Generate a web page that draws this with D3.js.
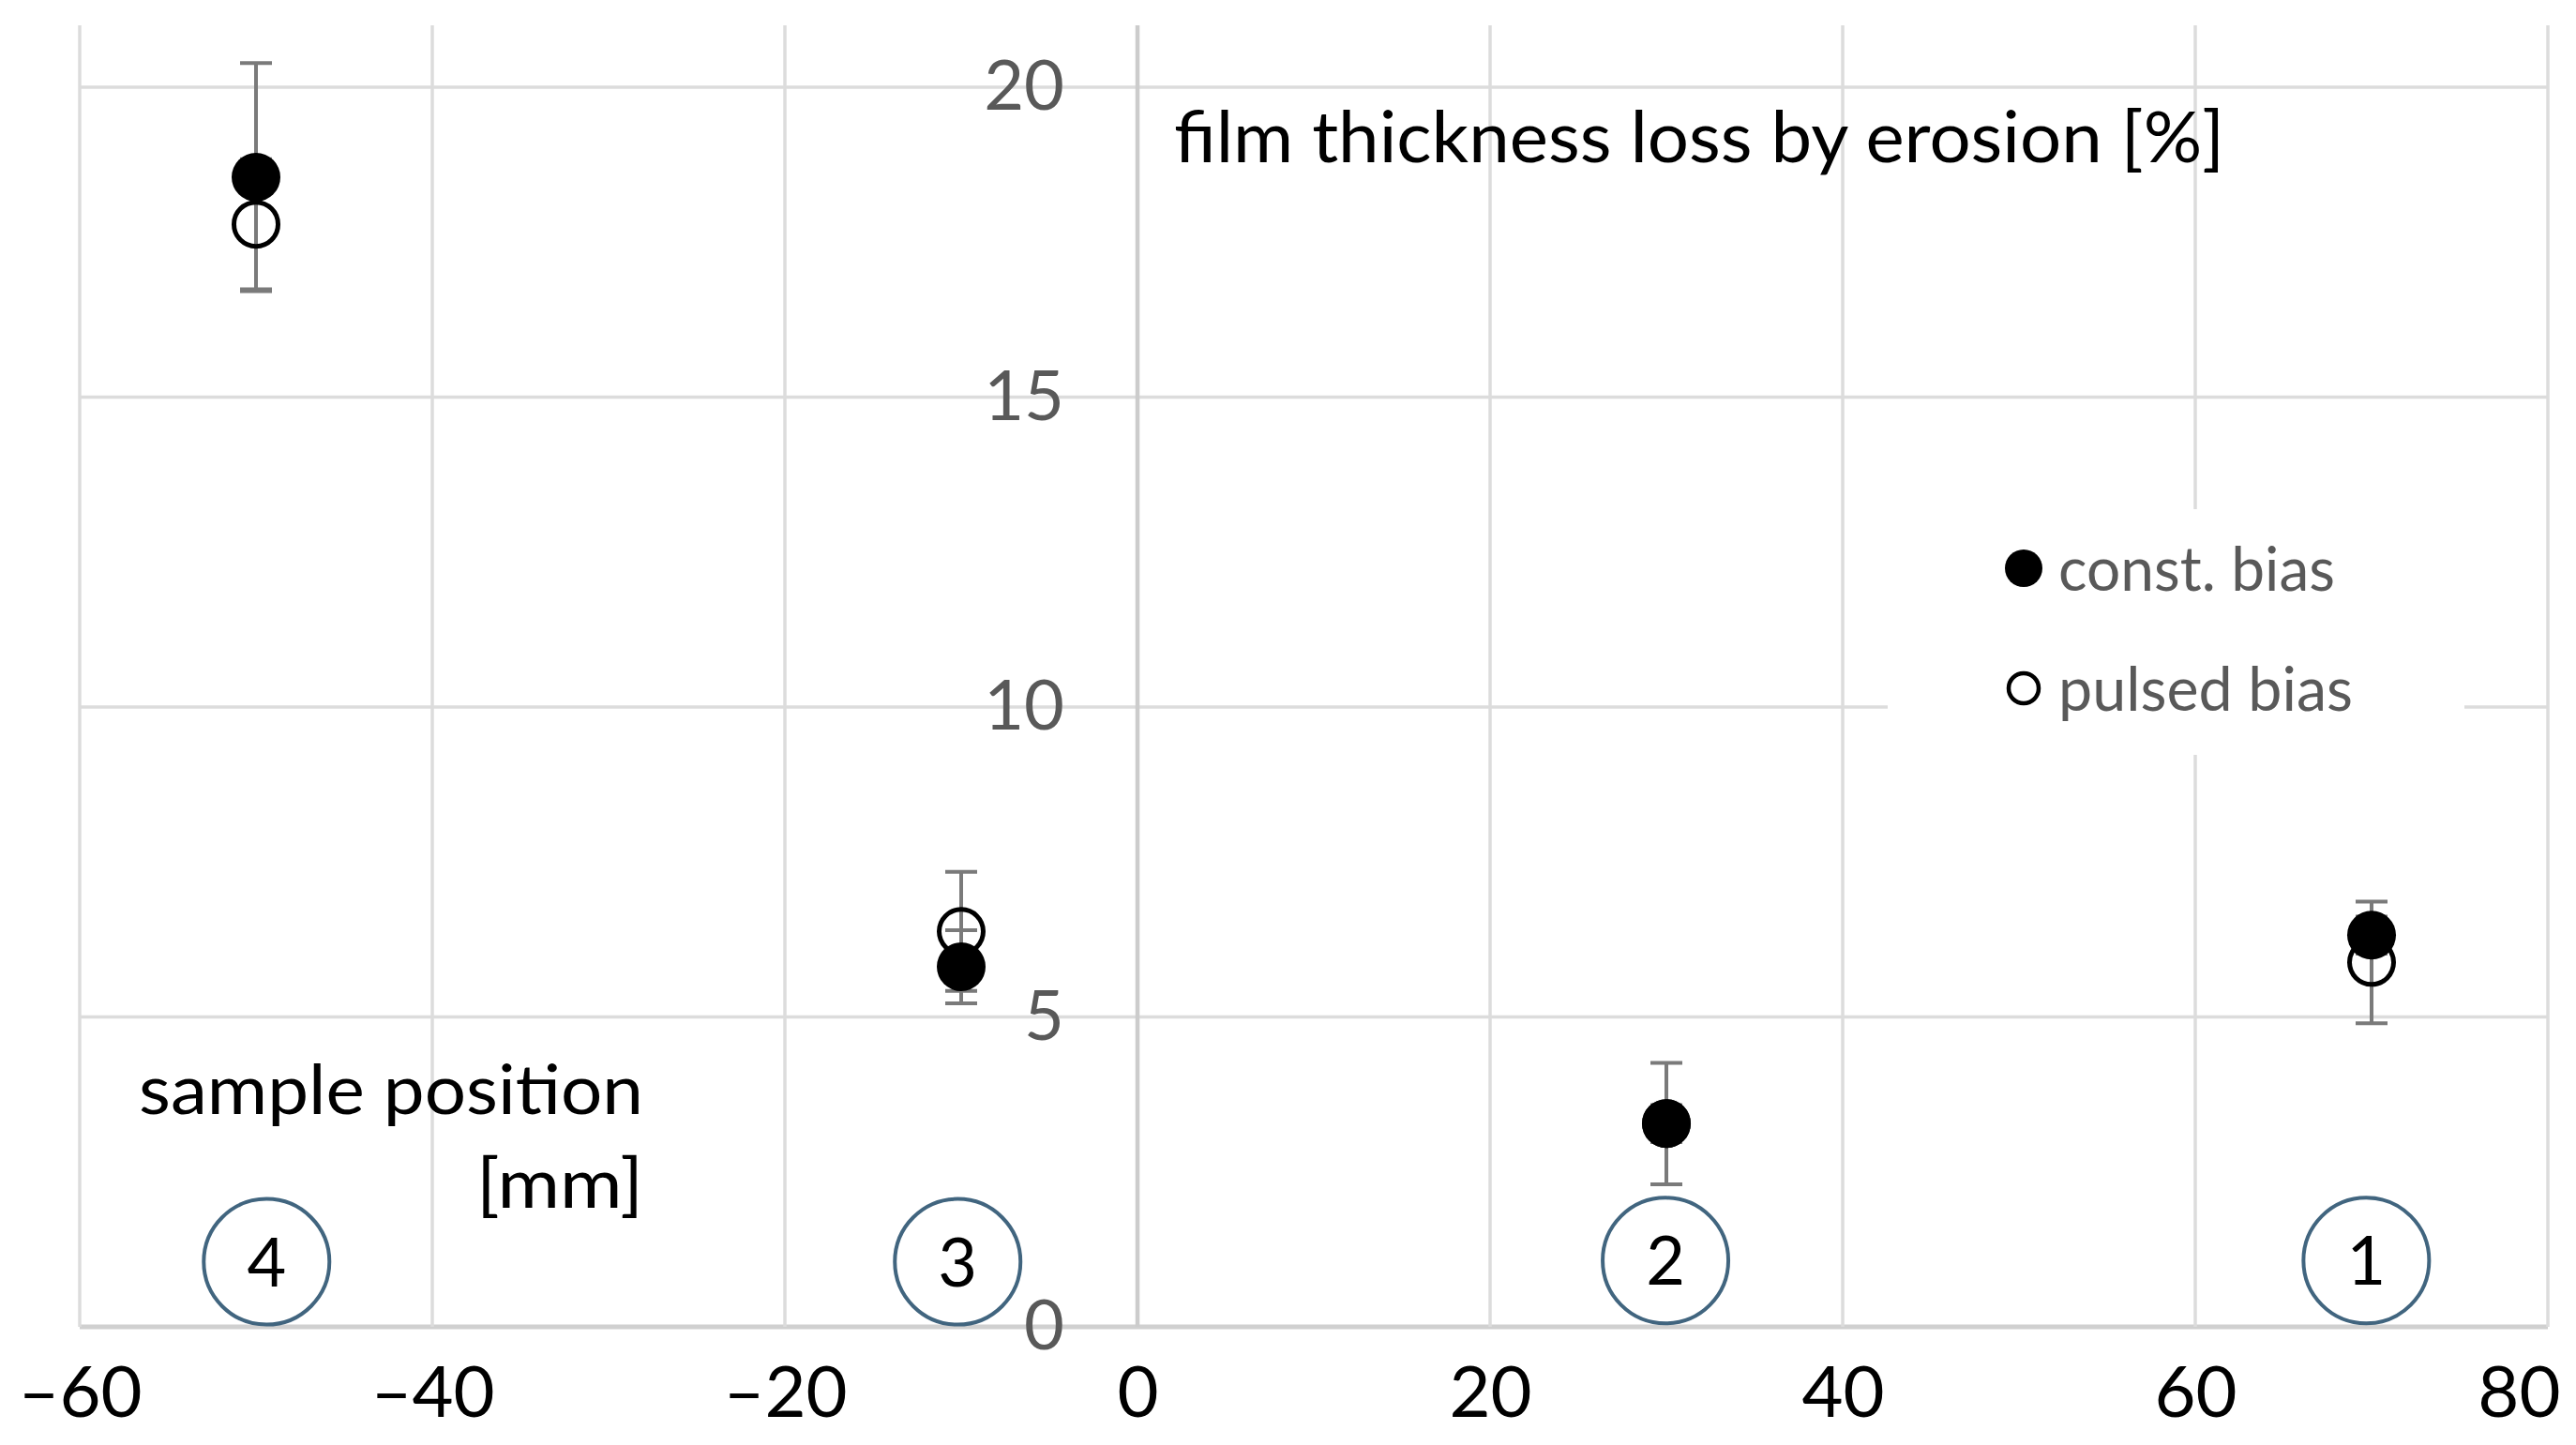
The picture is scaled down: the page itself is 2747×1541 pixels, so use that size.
<!DOCTYPE html>
<html>
<head>
<meta charset="utf-8">
<script src="https://cdn.jsdelivr.net/npm/d3@7"></script>
<style>
  html, body { margin: 0; padding: 0; background: #ffffff; }
  svg { display: block; font-family: Lato, "Open Sans", sans-serif; }
</style>
</head>
<body>
<script>
// ---------- data ----------
const xTicks = [-60, -40, -20, 0, 20, 40, 60, 80];
const yTicks = [0, 5, 10, 15, 20];
const positions = [-50, -10, 30, 70];            // sample position [mm]
const constBias = [18.55, 5.81, 3.28, 6.32];     // film thickness loss [%]
const constErr  = [1.84, 0.59, 0.98, 0.30];
const pulsedBias = [17.79, 6.38, 3.28, 5.88];
const pulsedErr  = [1.05, 0.96, 0.30, 0.98];
const sampleLabels = ["4", "3", "2", "1"];
const sampleLabelX = [-49.4, -10.2, 29.95, 69.7];
const sampleLabelY = [1.05, 1.05, 1.07, 1.07];
const legendLabels = ["const. bias", "pulsed bias"];
const titleText = "film thickness loss by erosion [%]";
const xTitleLines = ["sample position", "[mm]"];

// ---------- layout ----------
const W = 2747, H = 1541;
const x = d3.scaleLinear().domain([-60, 80]).range([85, 2717]);
const y = d3.scaleLinear().domain([0, 21]).range([1415, 27]);

const svg = d3.select("body").append("svg").attr("width", W).attr("height", H);
svg.append("rect").attr("width", W).attr("height", H).attr("fill", "#fff");

// gridlines
const grid = svg.append("g");
grid.selectAll("line.h").data(yTicks).join("line")
  .attr("x1", x(-60)).attr("x2", x(80))
  .attr("y1", d => y(d)).attr("y2", d => y(d))
  .attr("stroke", d => d === 0 ? "#d0d0d0" : "#dcdcdc")
  .attr("stroke-width", d => d === 0 ? 5 : 3.5);
grid.selectAll("line.v").data(xTicks).join("line")
  .attr("x1", d => x(d)).attr("x2", d => x(d))
  .attr("y1", y(21)).attr("y2", y(0))
  .attr("stroke", d => d === 0 ? "#cccccc" : "#dcdcdc")
  .attr("stroke-width", d => d === 0 ? 4.5 : 3.5);

// legend background (hides gridlines)
svg.append("rect").attr("x", 2013).attr("y", 543).attr("width", 615).attr("height", 262).attr("fill", "#fff");

// y axis labels (at x = 0)
const yAxis = d3.axisLeft(y).tickValues(yTicks).tickSize(0).tickPadding(78);
const gy = svg.append("g").attr("transform", `translate(${x(0)},0)`).call(yAxis);
gy.select(".domain").remove();
gy.selectAll("text").attr("font-size", 74).attr("fill", "#595959").attr("font-family", "Lato");

// x axis labels
const xAxis = d3.axisBottom(x).tickValues(xTicks).tickSize(0).tickPadding(42)
  .tickFormat(d => d < 0 ? "\u2013" + Math.abs(d) : String(d));
const gx = svg.append("g").attr("transform", `translate(0,${y(0)})`).call(xAxis);
gx.select(".domain").remove();
gx.selectAll("text").attr("font-size", 76).attr("fill", "#000").attr("font-family", "Lato");
gx.selectAll(".tick").filter(d => d === xTicks[xTicks.length - 1])
  .select("text").attr("text-anchor", "end").attr("x", 13);

// annotation ellipses
const ann = svg.append("g");
sampleLabels.forEach((lab, i) => {
  ann.append("ellipse")
    .attr("cx", x(sampleLabelX[i])).attr("cy", y(sampleLabelY[i]))
    .attr("rx", 67).attr("ry", 67)
    .attr("fill", "none").attr("stroke", "#41657f").attr("stroke-width", 4);
  ann.append("text")
    .attr("x", x(sampleLabelX[i])).attr("y", y(sampleLabelY[i]))
    .attr("dy", "0.36em").attr("text-anchor", "middle")
    .attr("font-size", 72).attr("fill", "#000").text(lab);
});

// error bars
function errorBars(vals, errs) {
  const g = svg.append("g").attr("stroke", "#7a7a7a").attr("stroke-width", 4);
  vals.forEach((v, i) => {
    const cx = x(positions[i]);
    const top = y(v + errs[i]), bot = y(v - errs[i]);
    g.append("line").attr("x1", cx).attr("x2", cx).attr("y1", top).attr("y2", bot);
    g.append("line").attr("x1", cx - 17).attr("x2", cx + 17).attr("y1", top).attr("y2", top);
    g.append("line").attr("x1", cx - 17).attr("x2", cx + 17).attr("y1", bot).attr("y2", bot);
  });
}
errorBars(pulsedBias, pulsedErr);
errorBars(constBias, constErr);

// markers
svg.append("g").selectAll("circle").data(pulsedBias).join("circle")
  .attr("cx", (d, i) => x(positions[i])).attr("cy", d => y(d))
  .attr("r", 23.5).attr("fill", "none").attr("stroke", "#000").attr("stroke-width", 5);
svg.append("g").selectAll("circle").data(constBias).join("circle")
  .attr("cx", (d, i) => x(positions[i])).attr("cy", d => y(d))
  .attr("r", 26).attr("fill", "#000");

// legend
svg.append("circle").attr("cx", 2158).attr("cy", 606).attr("r", 20).attr("fill", "#000");
svg.append("circle").attr("cx", 2158).attr("cy", 734).attr("r", 16).attr("fill", "none")
  .attr("stroke", "#000").attr("stroke-width", 4.5);
svg.append("text").attr("x", 2195).attr("y", 630).attr("font-size", 66).attr("fill", "#595959")
  .attr("textLength", 295).attr("lengthAdjust", "spacingAndGlyphs").text(legendLabels[0]);
svg.append("text").attr("x", 2195).attr("y", 758).attr("font-size", 66).attr("fill", "#595959")
  .attr("textLength", 314).attr("lengthAdjust", "spacingAndGlyphs").text(legendLabels[1]);

// titles
svg.append("text").attr("x", 1252).attr("y", 173).attr("font-size", 76).attr("fill", "#000")
  .attr("textLength", 1120).attr("lengthAdjust", "spacingAndGlyphs").text(titleText);
svg.append("text").attr("x", 686).attr("y", 1188).attr("text-anchor", "end").attr("font-size", 74)
  .attr("fill", "#000").attr("textLength", 538).attr("lengthAdjust", "spacingAndGlyphs").text(xTitleLines[0]);
svg.append("text").attr("x", 686).attr("y", 1288).attr("text-anchor", "end").attr("font-size", 74)
  .attr("fill", "#000").attr("textLength", 178).attr("lengthAdjust", "spacingAndGlyphs").text(xTitleLines[1]);
</script>
</body>
</html>
